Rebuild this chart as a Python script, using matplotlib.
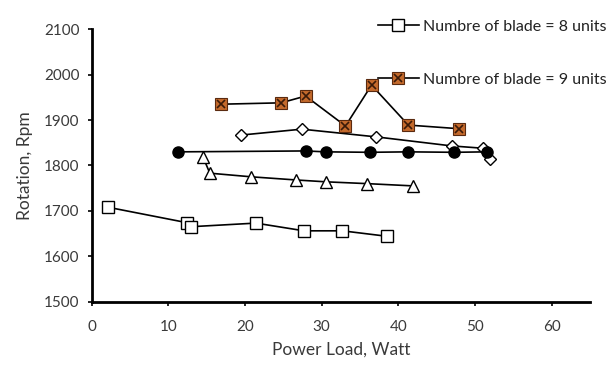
import matplotlib
matplotlib.use("Agg")
import matplotlib.pyplot as plt
from matplotlib.legend_handler import HandlerTuple

plt.rcParams["font.family"] = ["Lato", "DejaVu Sans"]

# Number of blade = 8 units (open squares)
x_b8 = [2.1, 12.4, 12.9, 21.4, 27.7, 32.7, 38.5]
y_b8 = [1708, 1674, 1665, 1673, 1656, 1656, 1644]

# open triangles
x_tri = [14.5, 15.4, 20.8, 26.7, 30.5, 35.9, 41.9]
y_tri = [1819, 1783, 1775, 1768, 1764, 1760, 1755]

# filled circles
x_circ = [11.3, 27.9, 30.5, 36.3, 41.3, 47.3, 51.5]
y_circ = [1830, 1832, 1830, 1829, 1830, 1829, 1830]

# open diamonds
x_dia = [19.5, 27.4, 37.1, 47.0, 51.0, 52.0]
y_dia = [1867, 1880, 1863, 1843, 1838, 1815]

# Number of blade = 9 units (orange squares with x)
x_b9 = [16.9, 24.7, 27.9, 33.1, 36.5, 41.3, 47.9]
y_b9 = [1935, 1938, 1953, 1887, 1977, 1889, 1881]

ORANGE = "#C46A2C"
TXT = "#3a3a3a"

fig = plt.figure(figsize=(6.12, 3.71), dpi=100)
ax = fig.add_axes([0.150, 0.187, 0.814, 0.734])

lw = 1.2
ax.plot(x_b8, y_b8, color="black", lw=lw, marker="s", ms=8.5,
        mfc="white", mec="black", mew=1.0, zorder=3)
ax.plot(x_tri, y_tri, color="black", lw=lw, marker="^", ms=8,
        mfc="white", mec="black", mew=1.0, zorder=3)
ax.plot(x_dia, y_dia, color="black", lw=lw, marker="D", ms=6,
        mfc="white", mec="black", mew=1.0, zorder=3)
ax.plot(x_circ, y_circ, color="black", lw=lw, marker="o", ms=8,
        mfc="black", mec="black", zorder=4)
l9, = ax.plot(x_b9, y_b9, color="black", lw=lw, marker="s", ms=9,
              mfc=ORANGE, mec="#5a2a10", mew=0.8, zorder=5)
x9, = ax.plot(x_b9, y_b9, ls="none", marker="x", ms=5.5,
              mec="#3a1a08", mew=1.2, zorder=6)

# legend handle for the 8-blade series
h8, = ax.plot([], [], color="black", lw=lw, marker="s", ms=8,
              mfc="white", mec="black", mew=1.0)

ax.set_xlim(0, 65)
ax.set_ylim(1500, 2100)
ax.set_xticks(range(0, 61, 10))
ax.set_yticks(range(1500, 2101, 100))

for s in ["top", "right"]:
    ax.spines[s].set_visible(False)
for s in ["left", "bottom"]:
    ax.spines[s].set_linewidth(2)

ax.tick_params(axis="both", direction="out", length=3, width=1.2,
               labelsize=11, labelcolor=TXT)
ax.tick_params(axis="x", pad=10)
ax.tick_params(axis="y", pad=6)
ax.set_xlabel("Power Load, Watt", fontsize=12.5, color=TXT, labelpad=6)
ax.set_ylabel("Rotation, Rpm", fontsize=12.5, color=TXT, labelpad=8)

fig.legend([h8, (l9, x9)],
           ["Numbre of blade = 8 units", "Numbre of blade = 9 units"],
           handler_map={tuple: HandlerTuple(ndivide=1, pad=0)},
           loc="upper left", bbox_to_anchor=(0.604, 0.968),
           frameon=False, fontsize=11.5, labelspacing=2.4,
           handlelength=2.6, handletextpad=0.25, borderpad=0,
           labelcolor="#222222")

fig.savefig("out.png", dpi=100)
